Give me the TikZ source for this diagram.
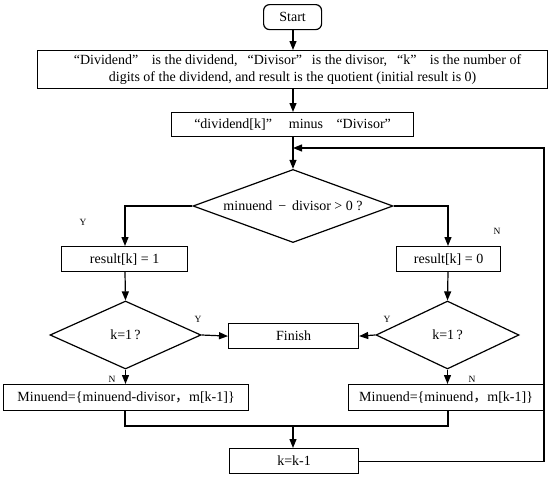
\documentclass[tikz,border=0pt]{standalone}
\usepackage{fontspec}
\setmainfont{Liberation Serif}
\newfontfamily\cjkfont{Noto Sans CJK SC}
\usetikzlibrary{shapes.geometric,arrows.meta}
\newcommand{\fwcomma}{{\cjkfont ，}}
\newcommand{\oq}[1]{\makebox[1.15em][r]{“}#1\makebox[1.15em][l]{”}}
\begin{document}
\begin{tikzpicture}[x=1pt,y=-1pt,
  every node/.style={font=\fontsize{14}{17}\selectfont, inner sep=0pt},
  box/.style={draw, line width=1.2pt, rectangle, anchor=north west},
  dia/.style={draw, line width=1.2pt, diamond, aspect=2.2},
  lbl/.style={font=\fontsize{9.5}{10}\selectfont},
  line/.style={line width=1.2pt},
  arr/.style={line width=1.2pt, -{Triangle[length=9pt,width=7pt]}}]
\useasboundingbox (0,0) rectangle (550,479);
% nodes
\node[box, rounded corners=6pt, minimum width=58pt, minimum height=25pt] (start) at (263,4) {Start};
\node[box, minimum width=510pt, minimum height=38pt, align=center] (init) at (37,50)
  {\oq{Dividend}\ is the dividend,\oq{Divisor}is the divisor,\oq{k}\ is the number of\\digits of the dividend, and result is the quotient (initial result is 0)};
\node[box, minimum width=242pt, minimum height=24pt] (sub) at (171,112) {\oq{dividend[k]}\ \ minus \oq{Divisor}};
\node[dia, minimum width=200pt, minimum height=68pt] (cmp) at (293,206) {minuend \,−\, divisor \textgreater\ 0 ?};
\node[box, minimum width=126pt, minimum height=25pt] (r1) at (61,246) {result[k] = 1};
\node[box, minimum width=104pt, minimum height=25pt] (r0) at (396,246) {result[k] = 0};
\node[dia, minimum width=151pt, minimum height=68pt] (kl) at (125.5,335) {k=1\,?};
\node[dia, minimum width=143pt, minimum height=68pt] (kr) at (447.5,335) {k=1\,?};
\node[box, minimum width=130pt, minimum height=25pt] (fin) at (228,323) {Finish};
\node[box, minimum width=245pt, minimum height=26pt] (ml) at (3,384) {Minuend=\{minuend-divisor\fwcomma m[k-1]\}};
\node[box, minimum width=195pt, minimum height=26pt] (mr) at (348,384) {Minuend=\{minuend\fwcomma m[k-1]\}};
\node[box, minimum width=129pt, minimum height=25pt] (kk) at (229,448) {k=k-1};
% coordinates
\coordinate (loopc) at (544,148);
\coordinate (mainc) at (293,148);
\coordinate (lcorner) at (125,206);
\coordinate (rcorner) at (448,206);
\coordinate (mergeL) at (125,426);
\coordinate (mergeR) at (448,426);
\coordinate (mergeM) at (293,426);
% connectors
\draw[arr] (start.south -| 293,0) -- (init.north -| 293,0);
\draw[arr] (init.south -| 293,0) -- (sub.north -| 293,0);
\draw[arr] (sub.south -| 293,0) -- (cmp.north);
\draw[arr] (kk.east) -- (kk.east -| loopc) -- (loopc) -- (mainc);
\draw[arr] (cmp.west) -- (lcorner) -- (r1.north -| lcorner);
\draw[arr] (cmp.east) -- (rcorner) -- (r0.north -| rcorner);
\draw[arr] (r1.south -| lcorner) -- (kl.north);
\draw[arr] (r0.south -| rcorner) -- (kr.north);
\draw[arr] (kl.east) -- (fin.west);
\draw[arr] (kr.west) -- (fin.east);
\draw[arr] (kl.south) -- (ml.north -| kl.south);
\draw[arr] (kr.south) -- (mr.north -| kr.south);
\draw[line] (ml.south -| mergeL) -- (mergeL) -- (mergeR) -- (mr.south -| mergeR);
\draw[arr] (mergeM) -- (kk.north -| mergeM);
% labels
\node[lbl] (y1) at (83,222) {Y};
\node[lbl] (n1) at (497,231) {N};
\node[lbl] (y2) at (198,319) {Y};
\node[lbl] (y3) at (387,319) {Y};
\node[lbl] (n2) at (112,379) {N};
\node[lbl] (n3) at (472,379) {N};
\end{tikzpicture}
\end{document}
